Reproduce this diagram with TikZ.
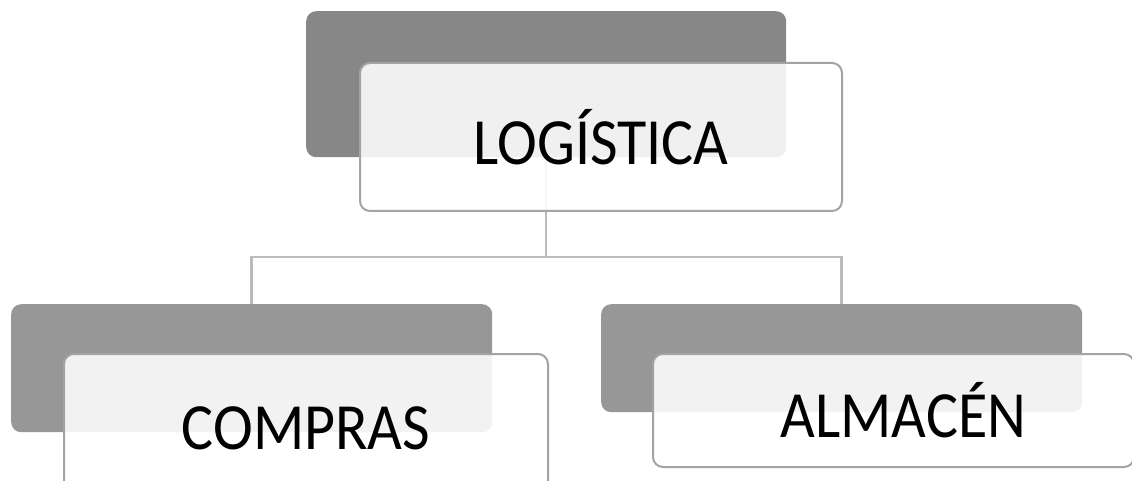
\documentclass[tikz,border=0pt]{standalone}
\usepackage{fontspec}
\setmainfont{Carlito}
\definecolor{backtop}{HTML}{878787}
\definecolor{backsub}{HTML}{979797}
\definecolor{frontline}{HTML}{A3A3A3}
\definecolor{connline}{HTML}{BBBBBB}
\newcommand{\cardlabel}[2]{\raisebox{#1}{\scalebox{1}[1.1]{#2}}}
\begin{document}
\begin{tikzpicture}[x=1pt,y=-1pt,
  backbox/.style={rectangle, rounded corners=10pt, inner sep=0pt, anchor=north west, draw=none},
  frontbox/.style={rectangle, rounded corners=10pt, inner sep=0pt, anchor=north west,
    draw=frontline, line width=2pt, fill=white, fill opacity=0.88, text opacity=1,
    font=\fontsize{60pt}{66pt}\selectfont, text=black},
  conn/.style={draw=connline, line width=2.5pt}]
\useasboundingbox (0,0) rectangle (1132,481);

% back plates
\node[backbox, fill=backtop, minimum width=480pt, minimum height=146pt] (bTop) at (306,11) {};
\node[backbox, fill=backsub, minimum width=481pt, minimum height=128pt] (bLeft) at (11,304) {};
\node[backbox, fill=backsub, minimum width=481pt, minimum height=108pt] (bRight) at (601,304) {};

% tree connectors (behind the translucent front cards)
\coordinate (bus) at (0,257);
\draw[conn] (bTop.south) -- (bTop.south |- bus);
\draw[conn] (bLeft.north) |- (bRight.north |- bus) -- (bRight.north);

% front cards with labels
\node[frontbox, minimum width=482pt, minimum height=148pt] (fTop) at (359,62) {\cardlabel{-6pt}{LOGÍSTICA}};
\node[frontbox, minimum width=484pt, minimum height=148pt] (fLeft) at (63,353) {\cardlabel{-5pt}{COMPRAS}};
\node[frontbox, minimum width=481pt, minimum height=113pt] (fRight) at (652,353) {\hspace{20pt}\cardlabel{-4pt}{ALMACÉN}};
\end{tikzpicture}
\end{document}
